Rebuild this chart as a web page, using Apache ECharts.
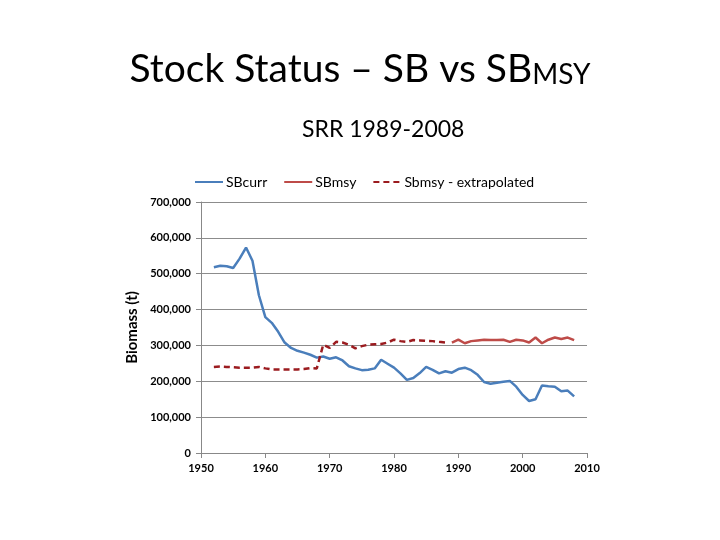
<!DOCTYPE html>
<html>
<head>
<meta charset="utf-8">
<script src="https://cdn.jsdelivr.net/npm/echarts@6/dist/echarts.min.js"></script>
<style>html,body{margin:0;padding:0;background:#fff}#c{width:720px;height:540px}</style>
</head>
<body>
<div id="c"></div>
<script>
// ---- data ----
var sbcurrYears = [1952,1953,1954,1955,1956,1957,1958,1959,1960,1961,1962,1963,1964,1965,1966,1967,1968,1969,1970,1971,1972,1973,1974,1975,1976,1977,1978,1979,1980,1981,1982,1983,1984,1985,1986,1987,1988,1989,1990,1991,1992,1993,1994,1995,1996,1997,1998,1999,2000,2001,2002,2003,2004,2005,2006,2007,2008];
var sbcurrValues = [518000,522000,521000,516000,542000,573000,536000,440000,379000,363000,338000,308000,293000,285000,280000,274000,266000,269000,263000,267000,258000,242000,236000,231000,232000,236000,260000,249000,238000,222000,204000,209000,223000,240000,232000,222000,228000,224000,234000,238000,231000,218000,198000,193000,196000,199000,201000,185000,162000,145000,150000,188000,186000,185000,172000,174000,158000];

var sbmsyYears = [1989,1990,1991,1992,1993,1994,1995,1996,1997,1998,1999,2000,2001,2002,2003,2004,2005,2006,2007,2008];
var sbmsyValues = [308000,316000,306000,312000,314000,316000,315000,315000,316000,310000,316000,314000,308000,322000,306000,316000,322000,318000,322000,315000];

var extrapYears = [1952,1953,1954,1955,1956,1957,1958,1959,1960,1961,1962,1963,1964,1965,1966,1967,1968,1969,1970,1971,1972,1973,1974,1975,1976,1977,1978,1979,1980,1981,1982,1983,1984,1985,1986,1987,1988];
var extrapValues = [240000,241000,240000,239000,238000,238000,238000,240000,236000,233000,233000,233000,233000,233000,234000,237000,236000,302000,293000,310000,308000,302000,292000,298000,302000,303000,304000,308000,316000,312000,310000,315000,314000,313000,312000,310000,308000];

var xTicks = [1950,1960,1970,1980,1990,2000,2010];
var yTicks = [0,100000,200000,300000,400000,500000,600000,700000];

function pairs(xs, ys){ return xs.map(function(x,i){ return [x, ys[i]]; }); }

var FONT = 'Lato, "Liberation Sans", sans-serif';
var chart = echarts.init(document.getElementById('c'), null, {renderer:'canvas'});
chart.setOption({
  backgroundColor:'#ffffff',
  animation:false,
  title:[{
    text:'{a|Stock Status – SB vs SB}{b|MSY}',
    left:'center', top:40,
    textStyle:{
      fontWeight:'normal',
      rich:{
        a:{fontFamily:FONT, fontSize:39, fontWeight:'normal', color:'#000', lineHeight:44, verticalAlign:'bottom'},
        b:{fontFamily:FONT, fontSize:28, fontWeight:'normal', color:'#000', lineHeight:22, verticalAlign:'bottom'}
      }
    }
  },{
    text:'SRR 1989-2008',
    left:297, top:113,
    textStyle:{fontFamily:FONT, fontSize:23, fontWeight:'normal', color:'#000'}
  }],
  legend:{
    top:170, left:189,
    itemWidth:28, itemHeight:10, itemGap:16,
    itemStyle:{opacity:0},
    textStyle:{fontFamily:FONT, fontSize:14, color:'#000', padding:[0,0,0,-2]},
    data:['SBcurr','SBmsy','Sbmsy - extrapolated']
  },
  grid:{left:201, right:133, top:202, bottom:87, containLabel:false},
  xAxis:{
    type:'value', min:xTicks[0], max:xTicks[xTicks.length-1], interval:10,
    axisLine:{show:true, onZero:false, lineStyle:{color:'#888', width:1}},
    axisTick:{show:true, length:5, lineStyle:{color:'#888'}},
    splitLine:{show:false},
    axisLabel:{fontFamily:FONT, fontSize:11, fontWeight:'bold', color:'#000', margin:10,
      formatter:function(v){ return String(v); }}
  },
  yAxis:{
    type:'value', min:yTicks[0], max:yTicks[yTicks.length-1], interval:100000,
    name:'Biomass (t)', nameLocation:'middle', nameGap:60, nameRotate:90,
    nameTextStyle:{fontFamily:FONT, fontSize:15, fontWeight:'bold', color:'#000'},
    axisLine:{show:true, lineStyle:{color:'#888', width:1}},
    axisTick:{show:true, length:5, lineStyle:{color:'#888'}},
    splitLine:{show:true, lineStyle:{color:'#8c8c8c', width:1}},
    axisLabel:{fontFamily:FONT, fontSize:11, fontWeight:'bold', color:'#000', margin:10,
      formatter:function(v){ return v.toLocaleString('en-US'); }}
  },
  series:[{
    name:'SBcurr', type:'line', showSymbol:false, symbol:'none',
    data:pairs(sbcurrYears, sbcurrValues),
    itemStyle:{color:'#4a7ebb'},
    lineStyle:{color:'#4a7ebb', width:2.5}
  },{
    name:'SBmsy', type:'line', showSymbol:false, symbol:'none',
    data:pairs(sbmsyYears, sbmsyValues),
    itemStyle:{color:'#be4b48'},
    lineStyle:{color:'#be4b48', width:2.5}
  },{
    name:'Sbmsy - extrapolated', type:'line', showSymbol:false, symbol:'none',
    data:pairs(extrapYears, extrapValues),
    itemStyle:{color:'#9b1b1f'},
    lineStyle:{color:'#9b1b1f', width:2.5, type:[6,4]}
  }]
});
</script>
</body>
</html>
